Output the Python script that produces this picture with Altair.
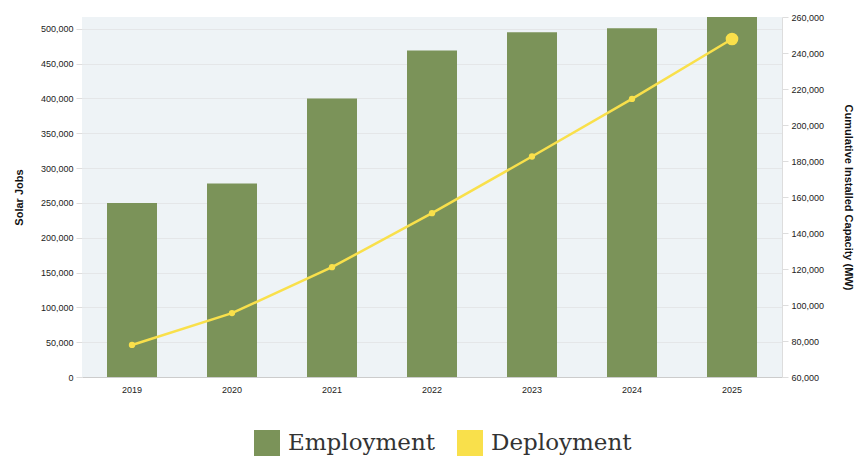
import altair as alt
import pandas as pd

years = ["2019", "2020", "2021", "2022", "2023", "2024", "2025"]
jobs = [250000, 278000, 400000, 469000, 495000, 501000, 517000]
capacity = [77800, 95500, 121000, 151000, 182500, 214500, 247800]
series_names = ["Employment", "Deployment"]
series_colors = ["#7B9359", "#F9E04B"]
point_sizes = [40, 40, 40, 40, 40, 40, 160]

df = pd.DataFrame({
    "year": years,
    "jobs": jobs,
    "capacity": capacity,
    "series": ["Employment"] * len(years),
    "psize": point_sizes,
})

x = alt.X("year:N", title=None, sort=years,
          scale=alt.Scale(paddingInner=0.5, paddingOuter=0.25),
          axis=alt.Axis(labelAngle=0, labelFontSize=9, labelColor="#222",
                        labelFont="Liberation Sans", domainColor="#ccc",
                        tickColor="#ccc", ticks=False, labelPadding=8))

base = alt.Chart(df)

bars = base.mark_bar(opacity=1).encode(
    x=x,
    y=alt.Y("jobs:Q", title="Solar Jobs",
            scale=alt.Scale(domain=[0, 517000], nice=False, zero=True),
            axis=alt.Axis(values=list(range(0, 500001, 50000)), format=",d",
                          labelFontSize=9, labelFont="Liberation Sans", labelColor="#222",
                          titleFont="Liberation Sans", titleFontSize=11, titleFontWeight="bold",
                          titleColor="#111", gridColor="#E4E6E8", domain=False,
                          tickColor="#ddd", tickSize=6, labelPadding=3, titlePadding=16)),
    color=alt.Color("series:N",
                    scale=alt.Scale(domain=series_names, range=series_colors),
                    legend=alt.Legend(title=None, orient="none", direction="horizontal",
                                      legendX=172, legendY=413,
                                      symbolType="square", symbolSize=676,
                                      symbolStrokeWidth=0, symbolOpacity=1,
                                      labelFont="DejaVu Serif", labelFontSize=23,
                                      labelColor="#333", columnPadding=22,
                                      labelOffset=8)),
)

y2 = alt.Y("capacity:Q", title="Cumulative Installed Capacity (MW)",
           scale=alt.Scale(domain=[60000, 260000], nice=False, zero=False),
           axis=alt.Axis(orient="right", values=list(range(60000, 260001, 20000)), format=",d",
                         labelFontSize=9, labelFont="Liberation Sans", labelColor="#222",
                         titleFont="Liberation Sans", titleFontSize=11, titleFontWeight="bold",
                         titleColor="#111", grid=False, domainColor="#ddd",
                         tickColor="#ddd", tickSize=6, labelPadding=3, titlePadding=19))

line = base.mark_line(color="#F9E04B", strokeWidth=2.5).encode(x=x, y=y2)
pts = base.mark_circle(color="#F9E04B", opacity=1).encode(
    x=x, y=y2, size=alt.Size("psize:Q", scale=None, legend=None))

right = alt.layer(line, pts)

chart = alt.layer(bars, right).resolve_scale(y="independent").properties(
    width=700, height=360,
    padding={"left": 74, "top": 9, "right": 73, "bottom": 84},
    autosize=alt.AutoSizeParams(type="none"),
).configure_view(fill="#EEF3F6", stroke=None)

chart.save("out.html", embed_options={"renderer": "svg", "actions": False})
